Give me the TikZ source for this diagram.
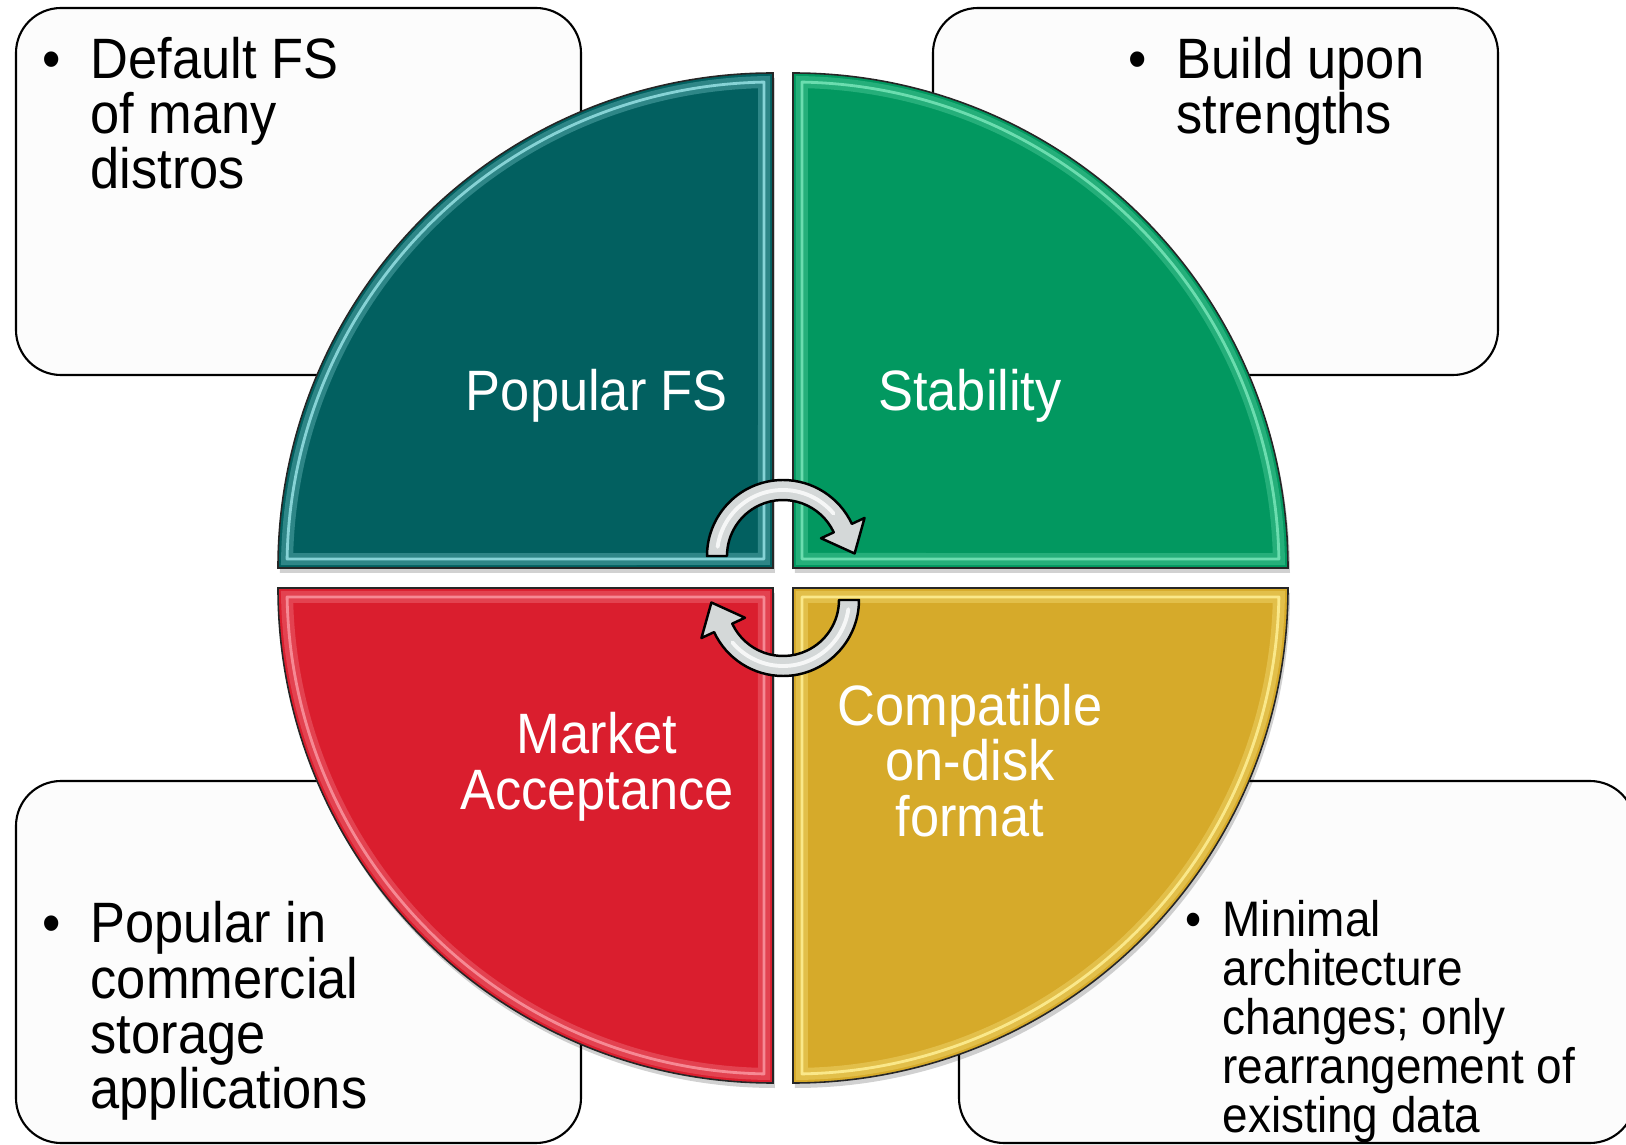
\documentclass[tikz,border=0pt]{standalone}
\usepackage{fontspec}
\setmainfont{Liberation Sans}[FakeStretch=0.92]

\definecolor{qteal}{RGB}{2,96,96}
\definecolor{qgreen}{RGB}{2,152,96}
\definecolor{qred}{RGB}{218,30,46}
\definecolor{qgold}{RGB}{214,170,42}
\definecolor{hlteal}{RGB}{150,225,228}
\definecolor{hlgreen}{RGB}{120,230,185}
\definecolor{hlred}{RGB}{250,150,160}
\definecolor{hlgold}{RGB}{255,240,150}
\definecolor{arrowgray}{RGB}{212,216,216}
\definecolor{notefill}{RGB}{252,252,252}

\newcommand{\bul}[1][8.5pt]{\llap{\textbullet\hspace{#1}}}

\tikzset{
  notebox/.style={draw=black, line width=0.6pt, fill=notefill, rounded corners=4.5mm},
  % base anchor of a multi-line node sits on its last line
  notetext/.style={anchor=base west, align=left, inner sep=0pt, text=black,
    font=\fontsize{16.2pt}{15.65pt}\selectfont},
  qlabel/.style={anchor=base, align=center, inner sep=0pt, text=white,
    font=\fontsize{16.2pt}{15.65pt}\selectfont},
  quadedge/.style={draw=black!85, line width=0.45pt},
  cyclearrow/.style={fill=arrowgray, draw=black, line width=0.7pt, line join=round}
}

\begin{document}
\begin{tikzpicture}[x=0.1mm, y=0.1mm]
    \useasboundingbox (-783,-567) rectangle (843,578);

    % Note boxes (behind the circle)
    \draw[notebox] (-767,570) rectangle (-202,203);
    \draw[notebox] (150,570) rectangle (715,203);
    \draw[notebox] (-767,-203) rectangle (-202,-565);
    \draw[notebox] (176,-203) rectangle (852,-565);

    % Soft shadow under the circle
    \begin{scope}[shift={(2,-5)}]
      \foreach \rot in {0,90,180,270}
        \fill[black, opacity=.18, rotate=\rot, shift={(10,10)}] (0,0) -- (495,0) arc[start angle=0, end angle=90, radius=495] -- cycle;
    \end{scope}

    % Four quadrants with a bevelled rim
    \foreach \rot/\col/\hl in {0/qgreen/hlgreen, 90/qteal/hlteal, 180/qred/hlred, 270/qgold/hlgold}{
      \begin{scope}[rotate=\rot, shift={(10,10)}]
        \fill[\col] (0,0) -- (495,0) arc[start angle=0, end angle=90, radius=495] -- cycle;
        \draw[\hl, opacity=.3, line width=1.2mm] (9,9) -- (1.06:486) arc[start angle=1.06, end angle=88.94, radius=486] -- cycle;
        \draw[\hl, opacity=.85, line width=0.8pt, line join=round] (9,9) -- (1.06:486) arc[start angle=1.06, end angle=88.94, radius=486] -- cycle;
        \draw[quadedge] (0,0) -- (495,0) arc[start angle=0, end angle=90, radius=495] -- cycle;
      \end{scope}
    }

    % Circular arrows in the middle
    \foreach \rot in {0,180}{
      \begin{scope}[rotate=\rot, shift={(0,22)}]
        \filldraw[cyclearrow] (180:56) -- (180:76) arc[start angle=180, end angle=25, radius=76]
          -- (25:90) -- (71.6,2.5) -- (25:42) -- (25:56) arc[start angle=25, end angle=180, radius=56] -- cycle;
        \draw[white, opacity=.8, line width=1.1pt, line cap=round] (172:66) arc[start angle=172, end angle=40, radius=66];
      \end{scope}
    }

    % Quadrant labels
    \node[qlabel] (popfs) at (-186,167) {Popular FS};
    \node[qlabel] (stability) at (187,167) {Stability};
    \node[qlabel] (ondisk) at (187,-258) {Compatible\\on-disk\\format};
    \node[qlabel] (market) at (-186,-231) {Market\\Acceptance};

    % Notes
    \node[notetext] (distros) at (-693,389) {\bul Default FS\\of many\\distros};
    \node[notetext] (strengths) at (393,444) {\bul Build upon\\strengths};
    \node[notetext] (commercial) at (-693,-530) {\bul Popular in\\commercial\\storage\\applications};
    \node[notetext, font=\fontsize{14.2pt}{13.9pt}\selectfont] (rearrange) at (439,-554)
      {\bul[6pt]Minimal\\architecture\\changes; only\\rearrangement of\\existing data};
\end{tikzpicture}
\end{document}
